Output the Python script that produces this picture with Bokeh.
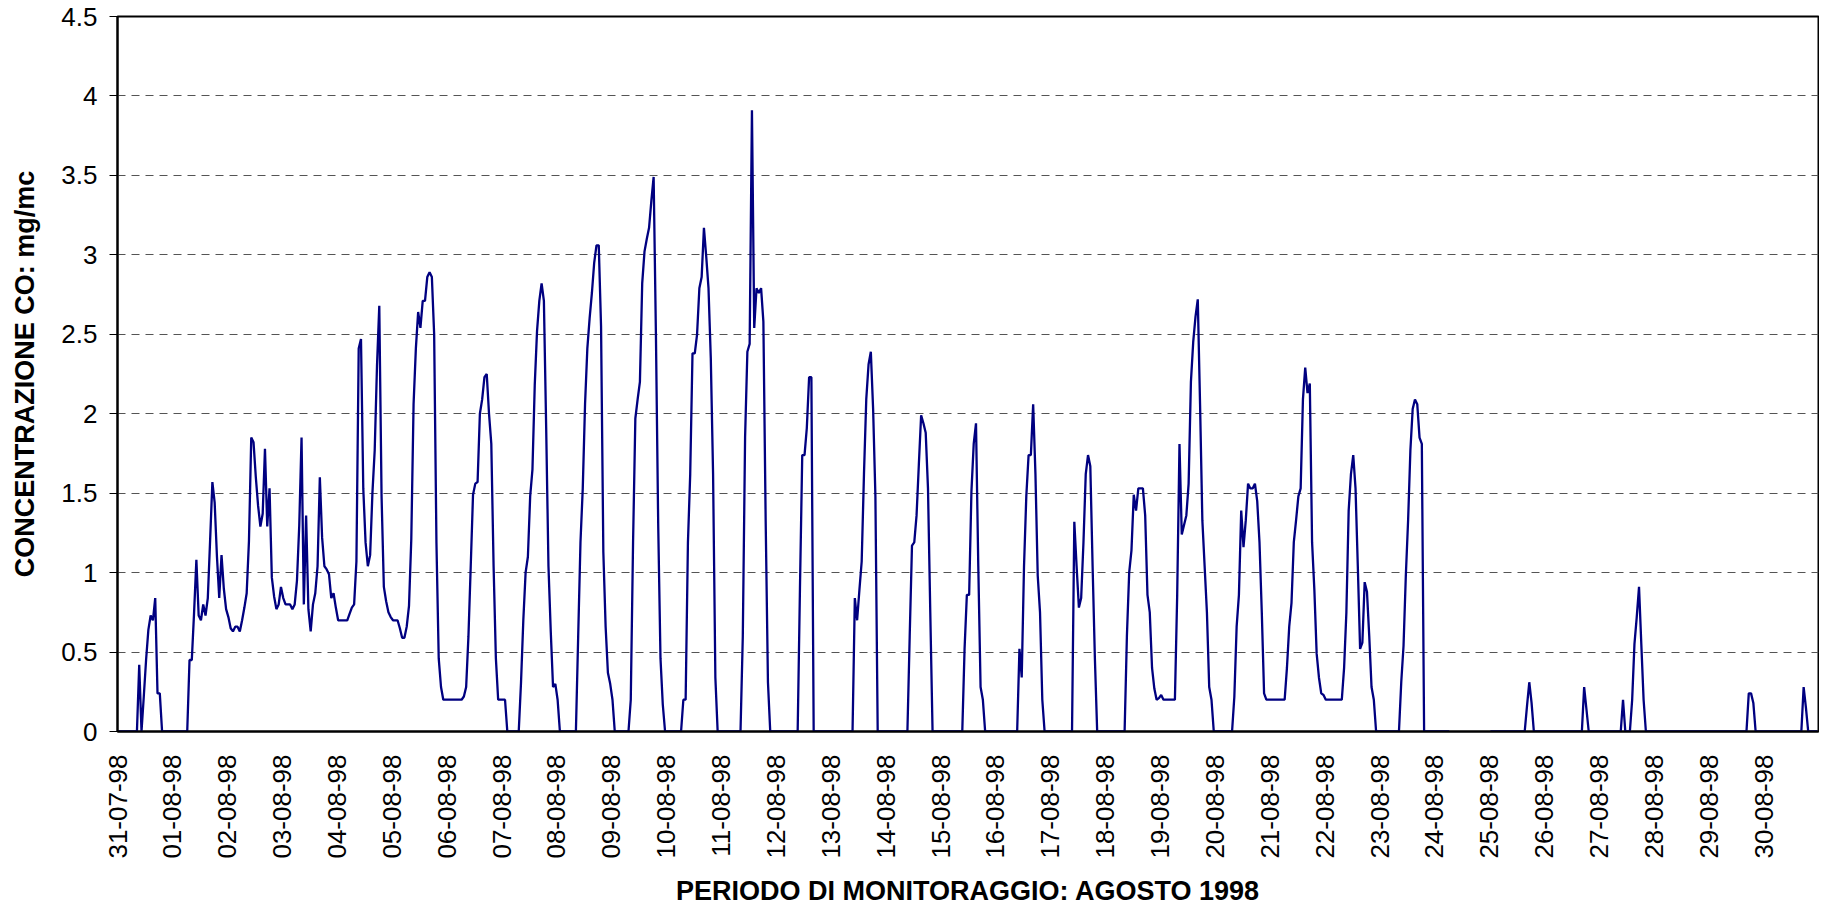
import math
import numpy as np
from bokeh.plotting import figure
from bokeh.models import ColumnDataSource, Range1d, FixedTicker
from bokeh.embed import file_html
from bokeh.resources import INLINE

nan = float("nan")

# Hourly CO concentration (mg/mc), one list of 24 hourly values per day
d31_07 = [0, 0, 0, 0, 0, 0, 0, 0, 0, 0.42, 0, 0.22, 0.45, 0.64, 0.73, 0.70, 0.84, 0.24, 0.24, 0, 0, 0, 0, 0]
d01_08 = [0, 0, 0, 0, 0, 0, 0, 0.45, 0.45, 0.75, 1.08, 0.73, 0.70, 0.80, 0.73, 0.84, 1.2, 1.57, 1.44, 1.1, 0.84, 1.11, 0.9, 0.77]
d02_08 = [0.72, 0.65, 0.63, 0.66, 0.66, 0.63, 0.70, 0.78, 0.87, 1.2, 1.85, 1.82, 1.6, 1.42, 1.29, 1.37, 1.78, 1.29, 1.53, 0.97, 0.85, 0.77, 0.80, 0.91]
d03_08 = [0.84, 0.80, 0.80, 0.80, 0.77, 0.80, 0.95, 1.3, 1.85, 0.80, 1.36, 0.77, 0.63, 0.80, 0.87, 1.04, 1.60, 1.22, 1.04, 1.02, 0.99, 0.84, 0.87, 0.78]
d04_08 = [0.70, 0.70, 0.70, 0.70, 0.70, 0.74, 0.78, 0.80, 1.07, 2.41, 2.47, 1.53, 1.19, 1.04, 1.11, 1.50, 1.77, 2.30, 2.68, 1.48, 0.91, 0.82, 0.75, 0.72]
d05_08 = [0.70, 0.70, 0.70, 0.65, 0.59, 0.59, 0.66, 0.79, 1.21, 2.06, 2.41, 2.64, 2.54, 2.71, 2.71, 2.86, 2.89, 2.86, 2.50, 1.19, 0.46, 0.28, 0.20, 0.20]
d06_08 = [0.20, 0.20, 0.20, 0.20, 0.20, 0.20, 0.20, 0.22, 0.28, 0.6, 1.04, 1.49, 1.56, 1.57, 2.0, 2.09, 2.23, 2.25, 2.0, 1.81, 1.04, 0.46, 0.20, 0.20]
d07_08 = [0.20, 0.20, 0, 0, 0, 0, 0, 0, 0.31, 0.7, 1.0, 1.10, 1.48, 1.65, 2.18, 2.52, 2.71, 2.82, 2.71, 1.91, 1.04, 0.63, 0.28, 0.30]
d08_08 = [0.20, 0, 0, 0, 0, 0, 0, 0, 0, 0.6, 1.19, 1.53, 2.06, 2.41, 2.6, 2.76, 2.95, 3.06, 3.06, 2.55, 1.13, 0.66, 0.37, 0.30]
d09_08 = [0.20, 0, 0, 0, 0, 0, 0, 0, 0.2, 1.19, 1.97, 2.09, 2.2, 2.82, 3.02, 3.10, 3.17, 3.34, 3.49, 2.50, 1.30, 0.46, 0.17, 0]
d10_08 = [0, 0, 0, 0, 0, 0, 0, 0.2, 0.2, 1.19, 1.62, 2.38, 2.38, 2.50, 2.79, 2.86, 3.17, 2.99, 2.79, 2.35, 1.62, 0.34, 0, 0]
d11_08 = [0, 0, 0, 0, 0, 0, 0, 0, 0, 0.6, 1.85, 2.39, 2.44, 3.91, 2.54, 2.79, 2.76, 2.79, 2.58, 1.33, 0.31, 0, 0, 0]
d12_08 = [0, 0, 0, 0, 0, 0, 0, 0, 0, 0, 0.9, 1.74, 1.74, 1.91, 2.23, 2.23, 0, 0, 0, 0, 0, 0, 0, 0]
d13_08 = [0, 0, 0, 0, 0, 0, 0, 0, 0, 0, 0.84, 0.70, 0.89, 1.07, 1.62, 2.09, 2.31, 2.39, 2.03, 1.48, 0, 0, 0, 0]
d14_08 = [0, 0, 0, 0, 0, 0, 0, 0, 0, 0, 0.6, 1.17, 1.19, 1.36, 1.68, 1.99, 1.94, 1.88, 1.53, 0.75, 0, 0, 0, 0]
d15_08 = [0, 0, 0, 0, 0, 0, 0, 0, 0, 0, 0.52, 0.86, 0.86, 1.51, 1.81, 1.94, 1.04, 0.28, 0.20, 0, 0, 0, 0, 0]
d16_08 = [0, 0, 0, 0, 0, 0, 0, 0, 0, 0, 0.52, 0.34, 1.04, 1.48, 1.74, 1.74, 2.06, 1.62, 0.98, 0.75, 0.20, 0, 0, 0]
d17_08 = [0, 0, 0, 0, 0, 0, 0, 0, 0, 0, 1.32, 1.04, 0.78, 0.84, 1.19, 1.62, 1.74, 1.67, 1.04, 0.46, 0, 0, 0, 0]
d18_08 = [0, 0, 0, 0, 0, 0, 0, 0, 0, 0.6, 1.0, 1.14, 1.49, 1.39, 1.53, 1.53, 1.53, 1.36, 0.86, 0.75, 0.40, 0.27, 0.20, 0.21]
d19_08 = [0.23, 0.20, 0.20, 0.20, 0.20, 0.20, 0.20, 0.86, 1.81, 1.24, 1.30, 1.36, 1.56, 2.2, 2.45, 2.61, 2.72, 2.06, 1.33, 1.04, 0.75, 0.28, 0.20, 0]
d20_08 = [0, 0, 0, 0, 0, 0, 0, 0, 0.22, 0.66, 0.86, 1.39, 1.16, 1.33, 1.56, 1.53, 1.53, 1.56, 1.45, 1.19, 0.75, 0.24, 0.20, 0.20]
d21_08 = [0.20, 0.20, 0.20, 0.20, 0.20, 0.20, 0.20, 0.40, 0.66, 0.81, 1.19, 1.33, 1.48, 1.53, 2.09, 2.29, 2.13, 2.19, 1.19, 0.89, 0.49, 0.34, 0.24, 0.23]
d22_08 = [0.20, 0.20, 0.20, 0.20, 0.20, 0.20, 0.20, 0.20, 0.40, 0.75, 1.39, 1.62, 1.74, 1.53, 1.04, 0.52, 0.56, 0.94, 0.88, 0.60, 0.28, 0.20, 0, 0]
d23_08 = [0, 0, 0, 0, 0, 0, 0, 0, 0, 0.31, 0.54, 0.98, 1.33, 1.77, 2.03, 2.09, 2.06, 1.85, 1.81, 0, 0, 0, 0, 0]
d24_08 = [0, 0, 0, 0, 0, 0, 0, nan, nan, nan, nan, nan, nan, nan, nan, nan, nan, nan, nan, nan, nan, nan, nan, nan]
d25_08 = [0, 0, 0, 0, 0, 0, 0, 0, 0, 0, 0, 0, 0, 0, 0, 0, 0.16, 0.31, 0.18, 0, 0, 0, 0, 0]
d26_08 = [0, 0, 0, 0, 0, 0, 0, 0, 0, 0, 0, 0, 0, 0, 0, 0, 0, 0.28, 0.14, 0, 0, 0, 0, 0]
d27_08 = [0, 0, 0, 0, 0, 0, 0, 0, 0, 0, 0.20, 0, 0, 0, 0.2, 0.55, 0.72, 0.91, 0.55, 0.2, 0, 0, 0, 0]
d28_08 = [0, 0, 0, 0, 0, 0, 0, 0, 0, 0, 0, 0, 0, 0, 0, 0, 0, 0, 0, 0, 0, 0, 0, 0]
d29_08 = [0, 0, 0, 0, 0, 0, 0, 0, 0, 0, 0, 0, 0, 0, 0, 0, 0, 0.24, 0.24, 0.18, 0, 0, 0, 0]
d30_08 = [0, 0, 0, 0, 0, 0, 0, 0, 0, 0, 0, 0, 0, 0, 0, 0, 0, 0.28, 0.15, 0, 0, 0, 0, 0]

day_labels = ["31-07-98", "01-08-98", "02-08-98", "03-08-98", "04-08-98", "05-08-98",
              "06-08-98", "07-08-98", "08-08-98", "09-08-98", "10-08-98", "11-08-98",
              "12-08-98", "13-08-98", "14-08-98", "15-08-98", "16-08-98", "17-08-98",
              "18-08-98", "19-08-98", "20-08-98", "21-08-98", "22-08-98", "23-08-98",
              "24-08-98", "25-08-98", "26-08-98", "27-08-98", "28-08-98", "29-08-98",
              "30-08-98"]
y_tick_values = [0, 0.5, 1, 1.5, 2, 2.5, 3, 3.5, 4, 4.5]
y_tick_labels = ["0", "0.5", "1", "1.5", "2", "2.5", "3", "3.5", "4", "4.5"]

days = [d31_07, d01_08, d02_08, d03_08, d04_08, d05_08, d06_08, d07_08, d08_08,
        d09_08, d10_08, d11_08, d12_08, d13_08, d14_08, d15_08, d16_08, d17_08,
        d18_08, d19_08, d20_08, d21_08, d22_08, d23_08, d24_08, d25_08, d26_08,
        d27_08, d28_08, d29_08, d30_08]

values = [v for d in days for v in d]
hours = np.arange(len(values)) + 0.5  # category centres, one per hour
src = ColumnDataSource(dict(x=hours, y=values))

FONT = "Liberation Sans"

p = figure(width=1819, height=909, output_backend="svg", toolbar_location=None,
           x_range=Range1d(0, len(values)), y_range=Range1d(0, 4.5),
           min_border_left=117, min_border_right=1, min_border_top=16, min_border_bottom=178)
p.background_fill_color = "white"
p.border_fill_color = "white"
p.outline_line_color = "black"
p.outline_line_width = 2

p.line("x", "y", source=src, line_color="#000080", line_width=2.3)

# grid
p.xgrid.visible = False
p.ygrid.ticker = FixedTicker(ticks=y_tick_values[1:-1])
p.ygrid.grid_line_color = "#555555"
p.ygrid.grid_line_width = 1
p.ygrid.grid_line_dash = "8 6"

# y axis
p.yaxis.ticker = FixedTicker(ticks=y_tick_values)
p.yaxis.major_label_overrides = {v: s for v, s in zip(y_tick_values, y_tick_labels)}
p.yaxis.major_tick_out = 8
p.yaxis.major_tick_in = 0
p.yaxis.minor_tick_line_color = None
p.yaxis.major_label_standoff = 12
p.yaxis.axis_label = "CONCENTRAZIONE CO: mg/mc"
p.yaxis.axis_label_standoff = 18

# x axis
p.xaxis.ticker = FixedTicker(ticks=[24 * k for k in range(len(day_labels))])
p.xaxis.major_label_overrides = {24 * k: s for k, s in enumerate(day_labels)}
p.xaxis.major_label_orientation = math.pi / 2
p.xaxis.major_tick_out = 0
p.xaxis.major_tick_in = 0
p.xaxis.minor_tick_line_color = None
p.xaxis.major_label_standoff = 23
p.xaxis.axis_label = "PERIODO DI MONITORAGGIO: AGOSTO 1998"
p.xaxis.axis_label_standoff = 14

for ax in (p.xaxis, p.yaxis):
    ax.axis_line_color = "black"
    ax.axis_line_width = 2
    ax.major_tick_line_color = "black"
    ax.major_tick_line_width = 1
    ax.major_label_text_font = FONT
    ax.major_label_text_font_size = "26px"
    ax.major_label_text_color = "black"
    ax.axis_label_text_font = FONT
    ax.axis_label_text_font_size = "27px"
    ax.axis_label_text_font_style = "bold"
    ax.axis_label_text_color = "black"

open("out.html", "w").write(file_html(p, INLINE))
